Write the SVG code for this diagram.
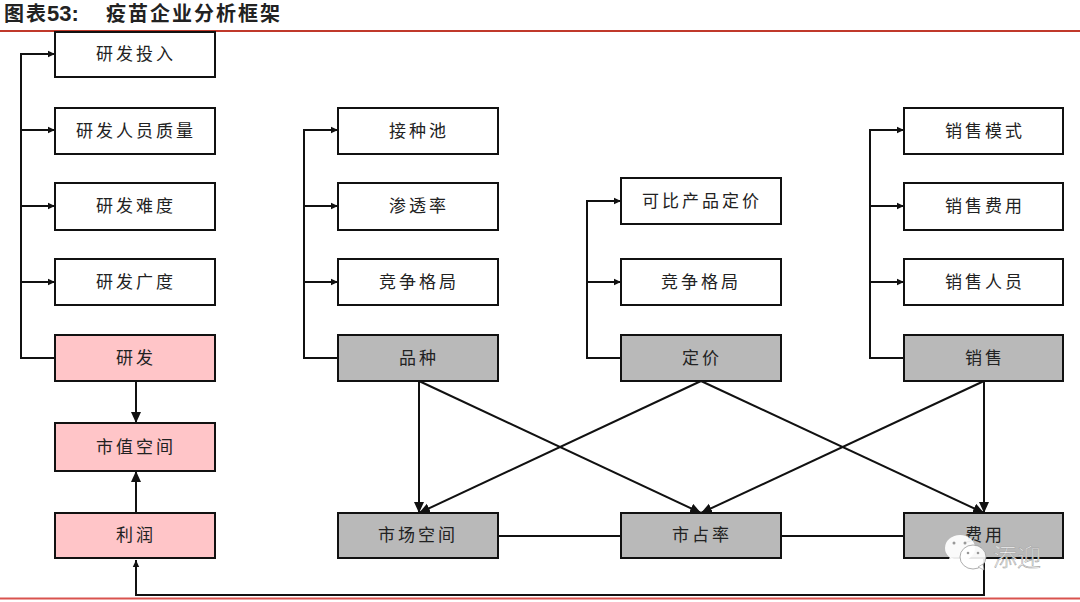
<svg xmlns="http://www.w3.org/2000/svg" width="1080" height="602" viewBox="0 0 1080 602">
<style>
.b{stroke:#111;stroke-width:2;fill:#fff}
.p{fill:#ffc5c8}
.g{fill:#b9b9b9}
.t{font-family:"Noto Sans CJK SC","Noto Sans CJK JP",sans-serif;font-size:17px;letter-spacing:3px;fill:#222;text-anchor:middle}
.c{fill:none;stroke:#111;stroke-width:2}
.h{font-family:"Noto Sans CJK SC",sans-serif;font-size:20px;font-weight:700;fill:#222;letter-spacing:2px}
</style>
<defs>
<marker id="a" markerUnits="userSpaceOnUse" markerWidth="8" markerHeight="8" refX="7" refY="4" orient="auto"><path d="M0 0.8L7 4L0 7.2z" fill="#111"/></marker>
<marker id="l" markerUnits="userSpaceOnUse" markerWidth="12" markerHeight="12" refX="11" refY="5" orient="auto"><path d="M0 0L11 5L0 10z" fill="#111"/></marker>
</defs>
<rect width="1080" height="602" fill="#fff"/>
<g id="header">
<text class="h" x="4" y="21">图表</text>
<text x="47" y="21" font-family="Liberation Sans,sans-serif" font-size="22" font-weight="700" fill="#222">53:</text>
<text class="h" x="106" y="21">疫苗企业分析框架</text>
<line x1="0" y1="31" x2="1080" y2="31" stroke="#c0392b" stroke-width="2"/>
<line x1="0" y1="598.500" x2="1080" y2="598.500" stroke="#d9534f" stroke-width="2"/>
</g>
<g id="connectors">
<path class="c" d="M55 358H21V54H55" marker-end="url(#a)"/>
<path class="c" d="M21 130H55" marker-end="url(#a)"/>
<path class="c" d="M21 206H55" marker-end="url(#a)"/>
<path class="c" d="M21 282H55" marker-end="url(#a)"/>
<path class="c" d="M338 358H304V130H338" marker-end="url(#a)"/>
<path class="c" d="M304 206H338" marker-end="url(#a)"/>
<path class="c" d="M304 282H338" marker-end="url(#a)"/>
<path class="c" d="M621 358H587V201H621" marker-end="url(#a)"/>
<path class="c" d="M587 282H621" marker-end="url(#a)"/>
<path class="c" d="M904 358H870V130H904" marker-end="url(#a)"/>
<path class="c" d="M870 206H904" marker-end="url(#a)"/>
<path class="c" d="M870 282H904" marker-end="url(#a)"/>
<path class="c" d="M136 381V423" marker-end="url(#l)"/>
<path class="c" d="M136 513V471" marker-end="url(#l)"/>
<path class="c" d="M419 381V513" marker-end="url(#l)"/>
<path class="c" d="M419 381L701 513" marker-end="url(#l)"/>
<path class="c" d="M701 381L419 513" marker-end="url(#l)"/>
<path class="c" d="M701 381L984 513" marker-end="url(#l)"/>
<path class="c" d="M984 381L701 513" marker-end="url(#l)"/>
<path class="c" d="M984 381V513" marker-end="url(#l)"/>
<path class="c" d="M498 536H621"/>
<path class="c" d="M781 536H904"/>
<path class="c" d="M984 558V595H136V560" marker-end="url(#a)"/>
</g>
<g id="n1"><rect class="b" x="55" y="32" width="160" height="45"/><text class="t" x="136" y="60">研发投入</text></g>
<g id="n2"><rect class="b" x="55" y="108" width="160" height="46"/><text class="t" x="136" y="137">研发人员质量</text></g>
<g id="n3"><rect class="b" x="55" y="183" width="160" height="47"/><text class="t" x="136" y="212">研发难度</text></g>
<g id="n4"><rect class="b" x="55" y="259" width="160" height="46"/><text class="t" x="136" y="288">研发广度</text></g>
<g id="n5"><rect class="b p" x="55" y="335" width="160" height="46"/><text class="t" x="136" y="364">研发</text></g>
<g id="n6"><rect class="b p" x="55" y="423" width="160" height="48"/><text class="t" x="136" y="453">市值空间</text></g>
<g id="n7"><rect class="b p" x="55" y="513" width="160" height="45"/><text class="t" x="136" y="541">利润</text></g>
<g id="n8"><rect class="b" x="338" y="108" width="160" height="46"/><text class="t" x="419" y="137">接种池</text></g>
<g id="n9"><rect class="b" x="338" y="183" width="160" height="47"/><text class="t" x="419" y="212">渗透率</text></g>
<g id="n10"><rect class="b" x="338" y="259" width="160" height="46"/><text class="t" x="419" y="288">竞争格局</text></g>
<g id="n11"><rect class="b g" x="338" y="335" width="160" height="46"/><text class="t" x="419" y="364">品种</text></g>
<g id="n12"><rect class="b g" x="338" y="513" width="160" height="45"/><text class="t" x="418" y="541">市场空间</text></g>
<g id="n13"><rect class="b" x="621" y="178" width="160" height="46"/><text class="t" x="702" y="207">可比产品定价</text></g>
<g id="n14"><rect class="b" x="621" y="259" width="160" height="46"/><text class="t" x="701" y="288">竞争格局</text></g>
<g id="n15"><rect class="b g" x="621" y="335" width="160" height="46"/><text class="t" x="702" y="364">定价</text></g>
<g id="n16"><rect class="b g" x="621" y="513" width="160" height="45"/><text class="t" x="702" y="541">市占率</text></g>
<g id="n17"><rect class="b" x="904" y="108" width="159" height="46"/><text class="t" x="985" y="137">销售模式</text></g>
<g id="n18"><rect class="b" x="904" y="183" width="159" height="47"/><text class="t" x="985" y="212">销售费用</text></g>
<g id="n19"><rect class="b" x="904" y="259" width="159" height="46"/><text class="t" x="985" y="288">销售人员</text></g>
<g id="n20"><rect class="b g" x="904" y="335" width="159" height="46"/><text class="t" x="985" y="364">销售</text></g>
<g id="n21"><rect class="b g" x="904" y="513" width="159" height="45"/><text class="t" x="985" y="541">费用</text></g>
<g id="watermark">
<ellipse cx="960" cy="548" rx="15" ry="13" fill="#fff" fill-opacity=".92"/>
<path d="M950 557L947 563L956 560z" fill="#fff" fill-opacity=".92"/>
<ellipse cx="973" cy="557" rx="13" ry="12" fill="#fff" fill-opacity=".9" stroke="#999" stroke-width=".8"/>
<path d="M978 567L984 570L983 564z" fill="#fff" stroke="#999" stroke-width=".6"/>
<circle cx="954" cy="543" r="1.500" fill="#999"/><circle cx="965" cy="543" r="1.500" fill="#999"/>
<circle cx="968" cy="553" r="1.300" fill="#999"/><circle cx="978" cy="553" r="1.300" fill="#999"/>
<text x="993" y="566" font-family="Noto Sans CJK SC,sans-serif" font-size="24" font-weight="300" fill="#fff" stroke="#999" stroke-width=".5">添迎</text>
</g>
</svg>
